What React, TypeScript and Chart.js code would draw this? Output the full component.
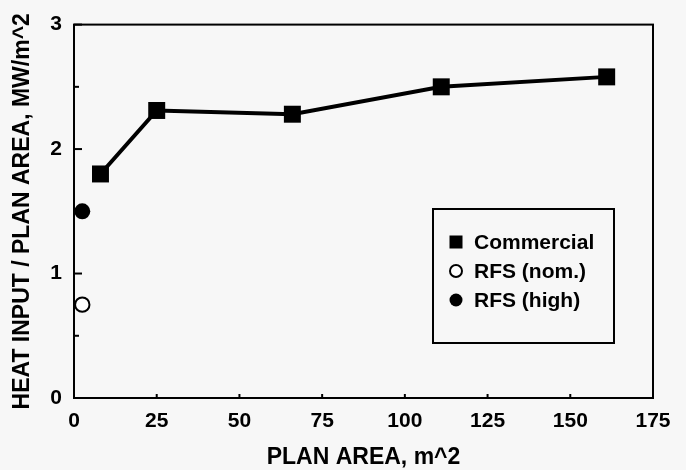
import React, { useEffect, useRef } from 'react';
import { Chart, registerables } from 'chart.js';

Chart.register(...registerables);

// ---- data ----
const seriesNames = ['Commercial', 'RFS (nom.)', 'RFS (high)'];
const commercialArea = [8, 25, 66, 111, 161];
const commercialHeat = [1.8, 2.31, 2.28, 2.5, 2.58];
const rfsNomArea = [2.5];
const rfsNomHeat = [0.75];
const rfsHighArea = [2.5];
const rfsHighHeat = [1.5];
const xTickValues = [0, 25, 50, 75, 100, 125, 150, 175];
const yTickValues = [0, 1, 2, 3];
const yMinorTickValues = [0.5, 1.5, 2.5];
const xTitle = 'PLAN AREA, m^2';
const yTitle = 'HEAT INPUT / PLAN AREA, MW/m^2';

const FAMILY = "'Liberation Sans', Arial, sans-serif";
const INK = '#000000';
const BG = '#f7f7f7';

const toPoints = (xs: number[], ys: number[]) => xs.map((x, i) => ({ x, y: ys[i] }));

const decorPlugin = {
  id: 'decor',
  afterDraw(chart: any) {
    const { ctx, chartArea: a, scales } = chart;
    const xs = scales.x;
    const ys = scales.y;
    ctx.save();
    ctx.strokeStyle = INK;
    ctx.fillStyle = INK;
    // frame
    ctx.lineWidth = 2;
    ctx.strokeRect(a.left, a.top, a.right - a.left, a.bottom - a.top);
    // inward x ticks
    xTickValues.forEach((v) => {
      const px = xs.getPixelForValue(v);
      ctx.beginPath();
      ctx.moveTo(px, a.bottom);
      ctx.lineTo(px, a.bottom - 4);
      ctx.stroke();
    });
    // inward y ticks
    yTickValues.forEach((v) => {
      const py = ys.getPixelForValue(v);
      ctx.beginPath();
      ctx.moveTo(a.left, py);
      ctx.lineTo(a.left + 8, py);
      ctx.stroke();
    });
    yMinorTickValues.forEach((v) => {
      const py = ys.getPixelForValue(v);
      ctx.beginPath();
      ctx.moveTo(a.left, py);
      ctx.lineTo(a.left + 5, py);
      ctx.stroke();
    });

    // legend box
    const L = { left: 433, top: 209, right: 614, bottom: 343 };
    ctx.fillStyle = BG;
    ctx.fillRect(L.left, L.top, L.right - L.left, L.bottom - L.top);
    ctx.lineWidth = 2;
    ctx.strokeRect(L.left, L.top, L.right - L.left, L.bottom - L.top);
    const rows = [242, 271, 300];
    const mx = 456;
    const tx = 474;
    ctx.font = `bold 21px ${FAMILY}`;
    ctx.textBaseline = 'middle';
    ctx.textAlign = 'left';
    chart.data.datasets.forEach((ds: any, i: number) => {
      const y = rows[i];
      ctx.fillStyle = INK;
      ctx.strokeStyle = INK;
      if (ds.pointStyle === 'rect') {
        ctx.fillRect(mx - 6.5, y - 6.5, 13, 13);
      } else if (ds.pointBackgroundColor === INK) {
        ctx.beginPath();
        ctx.arc(mx, y, 6.5, 0, Math.PI * 2);
        ctx.fill();
      } else {
        ctx.beginPath();
        ctx.arc(mx, y, 6, 0, Math.PI * 2);
        ctx.fillStyle = '#ffffff';
        ctx.fill();
        ctx.lineWidth = 2;
        ctx.stroke();
      }
      ctx.fillStyle = INK;
      ctx.fillText(ds.label, tx, y + 1);
    });
    ctx.restore();
  },
};

export default function App() {
  const ref = useRef<HTMLCanvasElement | null>(null);

  useEffect(() => {
    document.body.style.margin = '0';
    document.body.style.background = BG;
    const canvas = ref.current;
    if (!canvas) return;
    const chart = new Chart(canvas, {
      type: 'scatter',
      data: {
        datasets: [
          {
            label: seriesNames[0],
            data: toPoints(commercialArea, commercialHeat),
            showLine: true,
            borderColor: INK,
            borderWidth: 4,
            pointStyle: 'rect',
            pointRadius: 12,
            pointBackgroundColor: INK,
            pointBorderColor: INK,
            pointBorderWidth: 0,
            clip: false,
          } as any,
          {
            label: seriesNames[1],
            data: toPoints(rfsNomArea, rfsNomHeat),
            pointStyle: 'circle',
            pointRadius: 7.2,
            pointBackgroundColor: '#ffffff',
            pointBorderColor: INK,
            pointBorderWidth: 2,
            clip: false,
          } as any,
          {
            label: seriesNames[2],
            data: toPoints(rfsHighArea, rfsHighHeat),
            pointStyle: 'circle',
            pointRadius: 8,
            pointBackgroundColor: INK,
            pointBorderColor: INK,
            pointBorderWidth: 0,
            clip: false,
          } as any,
        ],
      },
      options: {
        animation: false,
        responsive: false,
        maintainAspectRatio: false,
        events: [],
        layout: { padding: { top: 22, right: 33, left: 0, bottom: 0 } },
        plugins: {
          legend: { display: false },
          tooltip: { enabled: false },
        },
        scales: {
          x: {
            type: 'linear',
            min: 0,
            max: 175,
            afterBuildTicks: (s: any) => {
              s.ticks = xTickValues.map((v) => ({ value: v }));
            },
            afterFit: (s: any) => {
              s.height = 72;
            },
            grid: { display: false, drawTicks: false },
            border: { display: false },
            ticks: {
              color: INK,
              padding: 11,
              maxRotation: 0,
              autoSkip: false,
              font: { family: FAMILY, size: 21, weight: 'bold' },
            },
            title: {
              display: true,
              text: xTitle,
              color: INK,
              padding: { top: 0, bottom: 0.5 },
              font: { family: FAMILY, size: 23, weight: 'bold', lineHeight: 1 },
            },
          },
          y: {
            type: 'linear',
            min: 0,
            max: 3,
            afterBuildTicks: (s: any) => {
              s.ticks = yTickValues.map((v) => ({ value: v }));
            },
            afterFit: (s: any) => {
              s.width = 74;
            },
            grid: { display: false, drawTicks: false },
            border: { display: false },
            ticks: {
              color: INK,
              padding: 12,
              autoSkip: false,
              font: { family: FAMILY, size: 21, weight: 'bold' },
            },
            title: {
              display: true,
              text: yTitle,
              color: INK,
              padding: { top: 11, bottom: 0 },
              font: { family: FAMILY, size: 23, weight: 'bold', lineHeight: 1 },
            },
          },
        },
      } as any,
      plugins: [decorPlugin],
    });
    return () => chart.destroy();
  }, []);

  return (
    <div style={{ position: 'absolute', left: 0, top: 0, width: 686, height: 470, background: BG }}>
      <canvas ref={ref} width={686} height={470} style={{ display: 'block', width: 686, height: 470 }} />
    </div>
  );
}
